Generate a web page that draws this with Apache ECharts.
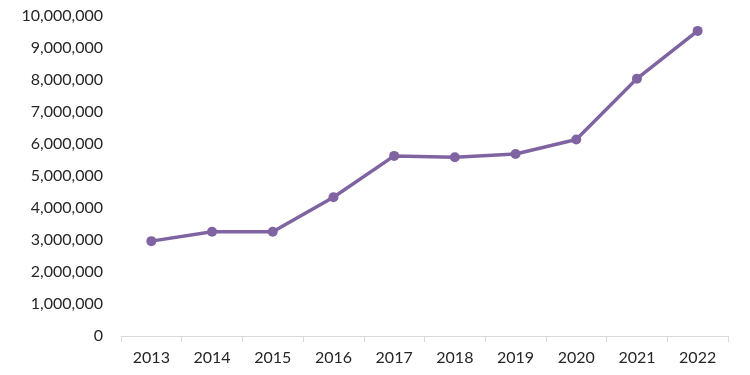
<!DOCTYPE html>
<html><head><meta charset="utf-8">
<script src="https://cdn.jsdelivr.net/npm/echarts@6/dist/echarts.min.js"></script>
<style>html,body{margin:0;padding:0;background:#fff}#c{width:750px;height:375px}</style>
</head><body><div id="c"></div>
<script>
const categories = ['2013','2014','2015','2016','2017','2018','2019','2020','2021','2022'];
const values = [2960000, 3250000, 3250000, 4330000, 5620000, 5580000, 5680000, 6130000, 8030000, 9520000];
const yTicks = { min: 0, max: 10000000, interval: 1000000 };

const chart = echarts.init(document.getElementById('c'), null, {renderer:'canvas'});
chart.setOption({
  animation: false,
  grid: { left: 121, right: 22, top: 15.5, bottom: 39 },
  xAxis: {
    type: 'category', data: categories, boundaryGap: true,
    axisLine: { lineStyle: { color: '#d9d9d9', width: 1 } },
    axisTick: { show: true, length: 6, lineStyle: { color: '#d9d9d9' } },
    axisLabel: { color: '#262626', fontFamily: 'Lato', fontSize: 16, margin: 14 }
  },
  yAxis: {
    type: 'value', min: yTicks.min, max: yTicks.max, interval: yTicks.interval,
    splitLine: { show: false }, axisLine: { show: false }, axisTick: { show: false },
    axisLabel: { color: '#262626', fontFamily: 'Lato', fontSize: 16, margin: 18,
      formatter: v => v.toLocaleString('en-US') }
  },
  series: [{
    type: 'line', data: values, symbol: 'circle', symbolSize: 10,
    lineStyle: { color: '#8064A2', width: 3.5 },
    itemStyle: { color: '#8064A2' }
  }]
});
</script></body></html>
